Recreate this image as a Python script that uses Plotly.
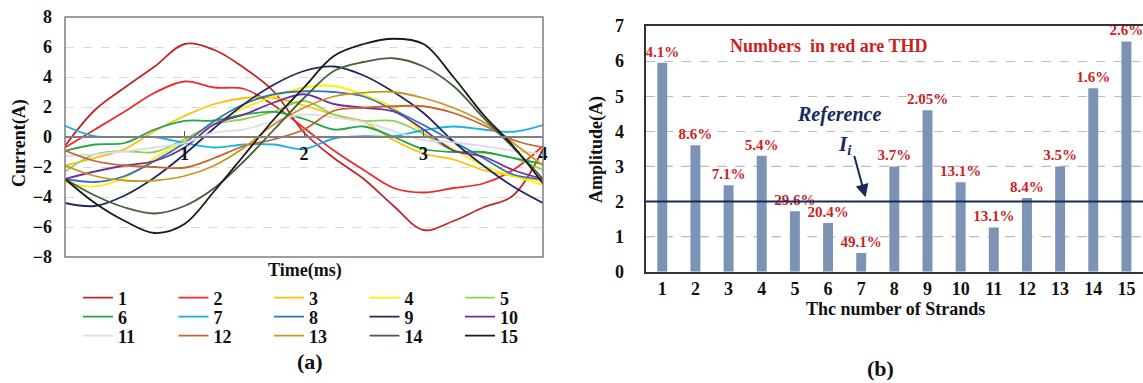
import plotly.graph_objects as go

# ---------------- data: (a) strand currents ----------------
time_ms = [0, 0.25, 0.5, 0.75, 1.0, 1.25, 1.5, 1.75, 2.0, 2.25, 2.5, 2.75, 3.0, 3.25, 3.5, 3.75, 4.0]
time_ticks = [1, 2, 3, 4]
current_1 = [-0.6, 1.8, 3.3, 4.7, 6.2, 5.8, 4.6, 3.0, 0.3, -1.4, -2.8, -4.6, -6.2, -5.6, -4.7, -3.9, -0.8]
current_2 = [-0.7, 0.5, 1.7, 2.95, 3.7, 3.3, 3.2, 2.1, 0.6, -0.9, -2.2, -3.4, -3.7, -3.4, -3.1, -2.2, -0.6]
current_3 = [-1.9, -1.4, -0.8, 0.4, 1.4, 2.2, 2.6, 2.6, 2.1, 1.5, 1.0, -0.2, -1.1, -1.5, -2.2, -2.6, -2.9]
current_4 = [-3.0, -3.3, -2.7, -1.4, -0.27, 0.85, 1.95, 2.7, 3.3, 3.4, 2.8, 1.95, 0.3, -0.8, -1.9, -2.6, -3.2]
current_5 = [-2.3, -1.15, -0.95, -1.0, -0.15, 0.85, 1.2, 1.7, 2.4, 1.5, 1.07, 1.07, 0.2, -0.9, -1.05, -1.4, -2.2]
current_6 = [-0.93, -0.5, -0.4, 0.5, 1.07, 1.1, 1.5, 1.67, 1.2, 0.5, 0.7, 0.0, -0.8, -1.0, -1.0, -1.4, -1.8]
current_7 = [0.75, 0.05, 0.0, 0.0, -0.4, -0.7, -0.5, -0.5, -0.8, -0.1, 0.05, 0.05, 0.45, 0.7, 0.5, 0.35, 0.8]
current_8 = [-2.8, -3.0, -2.6, -1.6, -0.4, 1.07, 2.2, 2.85, 3.05, 3.0, 2.7, 1.8, 0.8, -0.3, -1.4, -2.5, -2.8]
current_9 = [-4.4, -4.6, -3.9, -2.7, -1.15, 0.6, 2.2, 3.5, 4.4, 4.7, 4.1, 3.0, 1.6, -0.3, -1.9, -3.3, -4.4]
current_10 = [-2.8, -2.3, -1.9, -1.6, -0.7, 0.85, 1.5, 2.3, 2.85, 2.2, 1.95, 1.7, 0.5, -0.9, -1.3, -2.2, -2.8]
current_11 = [-1.27, -1.15, -0.95, -0.7, -0.4, 0.3, 0.5, 1.07, 1.5, 1.3, 1.0, 0.4, -0.2, -0.35, -0.6, -0.9, -1.15]
current_12 = [-0.9, -1.6, -1.9, -2.0, -2.05, -1.4, -0.6, -0.15, 0.5, 1.75, 1.95, 2.05, 2.05, 1.6, 0.8, -0.2, -0.7]
current_13 = [-1.9, -2.6, -2.9, -2.9, -2.6, -1.9, -0.7, 0.85, 1.95, 2.7, 2.95, 3.0, 2.6, 1.95, 1.0, -0.4, -1.9]
current_14 = [-2.8, -3.9, -4.7, -5.1, -4.6, -3.4, -1.6, 0.5, 2.6, 4.4, 5.0, 5.25, 4.7, 3.4, 1.3, -0.7, -2.8]
current_15 = [-2.8, -4.4, -5.6, -6.4, -5.8, -3.6, -1.2, 1.2, 3.3, 5.4, 6.2, 6.55, 6.2, 4.0, 1.5, -0.6, -3.1]
strand_names = [str(i) for i in range(1, 16)]
strand_colors = ['#C0272D', '#EE2A2A', '#FFC000', '#FFEE00', '#92D050',
                 '#22A84A', '#1CB0EA', '#2E75B6', '#1F2A5C', '#7030A0',
                 '#DCDCEE', '#C8642A', '#C8961E', '#44603A', '#1A1A1A']

# ---------------- data: (b) amplitudes ----------------
strands = list(range(1, 16))
amplitude = [5.95, 3.6, 2.46, 3.3, 1.72, 1.39, 0.53, 3.0, 4.6, 2.55, 1.26, 2.1, 3.0, 5.23, 6.56]
thd_labels = ['4.1%', '8.6%', '7.1%', '5.4%', '29.6%', '20.4%', '49.1%', '3.7%',
              '2.05%', '13.1%', '13.1%', '8.4%', '3.5%', '1.6%', '2.6%']
reference_current = 2
dark_grid_levels = [1, 3]

SERIF = 'Liberation Serif'
W, H = 1143, 383

currents = [current_1, current_2, current_3, current_4, current_5, current_6, current_7,
            current_8, current_9, current_10, current_11, current_12, current_13,
            current_14, current_15]

fig = go.Figure()
legend_ids = ['legend', 'legend2', 'legend3']
for i, (name, vals, col) in enumerate(zip(strand_names, currents, strand_colors)):
    fig.add_trace(go.Scatter(
        x=time_ms, y=vals, mode='lines', name=name,
        line=dict(color=col, width=1.8, shape='spline', smoothing=1.0),
        xaxis='x', yaxis='y', legend=legend_ids[i // 5]))

fig.add_trace(go.Bar(
    x=strands, y=amplitude, xaxis='x2', yaxis='y2', width=0.3,
    marker=dict(color='#7C93B6', line=dict(width=0)),
    text=thd_labels, textposition='outside', constraintext='none', cliponaxis=False,
    textfont=dict(family=SERIF, size=15, color='#CC1F1F', weight='bold'),
    showlegend=False))

# domains (paper fractions)
ax0, ax1 = 65 / W, 543 / W
ay0, ay1 = 1 - 257 / H, 1 - 17 / H
bx0, bx1 = 645.7 / W, 1.0
by0, by1 = 1 - 271.7 / H, 1 - 26 / H

tickfont = dict(family=SERIF, size=18, color='#111', weight='bold')

legend_common = dict(orientation='h', xanchor='left', yanchor='middle',
                     bgcolor='rgba(0,0,0,0)', entrywidth=50.5, entrywidthmode='pixels',
                     itemwidth=30, font=dict(family=SERIF, size=18, color='#111', weight='bold'),
                     traceorder='normal')

fig.update_layout(
    width=W, height=H, margin=dict(l=0, r=0, t=0, b=0),
    paper_bgcolor='white', plot_bgcolor='white',
    xaxis=dict(domain=[ax0, ax1], range=[0, 4], anchor='free', position=(ay0 + ay1) / 2,
               tickvals=time_ticks, ticktext=[str(t) for t in time_ticks],
               showline=True, linecolor='#7F7F7F', linewidth=2,
               ticks='inside', ticklen=5, tickcolor='#555', showgrid=False, zeroline=False,
               tickfont=tickfont, automargin=False),
    yaxis=dict(domain=[ay0, ay1], range=[-8, 8], dtick=2, anchor='x',
               showgrid=True, gridcolor='#DADADA', griddash='dash', gridwidth=1,
               zeroline=False, showline=False, ticks='', ticklabelstandoff=12,
               tickfont=tickfont, automargin=False),
    xaxis2=dict(domain=[bx0, bx1], range=[0.5, 15.5], anchor='y2',
                tickvals=strands, showline=True, mirror=True, linecolor='#333', linewidth=2,
                ticks='', showgrid=False, zeroline=False, tickfont=tickfont, automargin=False),
    yaxis2=dict(domain=[by0, by1], range=[0, 7], dtick=1, anchor='x2',
                showline=True, linecolor='#333', linewidth=2,
                showgrid=True, gridcolor='#BDBDBD', griddash='dash', gridwidth=1,
                zeroline=False, ticks='', ticklabelstandoff=16, tickfont=tickfont, automargin=False),
    legend=dict(x=78 / W, y=1 - 298 / H, **legend_common),
    legend2=dict(x=78 / W, y=1 - 317 / H, **legend_common),
    legend3=dict(x=78 / W, y=1 - 336 / H, **legend_common),
)

# frame of (a)
fig.add_shape(type='rect', xref='x domain', yref='y domain', x0=0, x1=1, y0=0, y1=1,
              line=dict(color='#7F7F7F', width=1.5), layer='above')
# darker dashed grid lines of (b)
for lv in dark_grid_levels:
    fig.add_shape(type='line', xref='x2 domain', yref='y2', x0=0, x1=1, y0=lv, y1=lv,
                  line=dict(color='#444', width=1, dash='dash'), layer='below')
# reference line
fig.add_shape(type='line', xref='x2 domain', yref='y2', x0=0, x1=1,
              y0=reference_current, y1=reference_current,
              line=dict(color='#142B5C', width=2), layer='above')


def label(text, x, y, size=18, color='#111', angle=0, xref='paper', yref='paper'):
    return dict(text=text, x=x, y=y, xref=xref, yref=yref, xanchor='center', yanchor='middle',
                textangle=angle, showarrow=False, font=dict(family=SERIF, size=size, color=color))


ann = [
    label('<b>Current(A)</b>', 19 / W, 1 - 143 / H, angle=-90),
    label('<b>Time(ms)</b>', 305 / W, 1 - 270 / H),
    label('<b>(a)</b>', 310 / W, 1 - 361 / H, size=22),
    label('<b>Amplitude(A)</b>', 597 / W, 1 - 150 / H, angle=-90),
    label('<b>Thc number of Strands</b>', 895 / W, 1 - 309 / H),
    label('<b>(b)</b>', 880 / W, 1 - 368 / H, size=22),
    label('<b>Numbers  in red are THD</b>', 6.03, 6.44, color='#CC1F1F', xref='x2', yref='y2'),
    label('<b><i>Reference</i></b>', 6.33, 4.49, size=20, color='#142B5C', xref='x2', yref='y2'),
    label('<b><i>I<sub>i</sub></i></b>', 6.5, 3.6, size=21, color='#142B5C', xref='x2', yref='y2'),
    dict(text='', x=7.13, y=2.12, ax=6.78, ay=3.34, xref='x2', yref='y2',
         axref='x2', ayref='y2', showarrow=True, arrowhead=2, arrowsize=1.3,
         arrowwidth=2, arrowcolor='#142B5C'),
]
fig.update_layout(annotations=ann)

fig.write_html('out.html', config={'displayModeBar': False},
               post_script="document.body.style.margin='0';document.body.style.padding='0';")
